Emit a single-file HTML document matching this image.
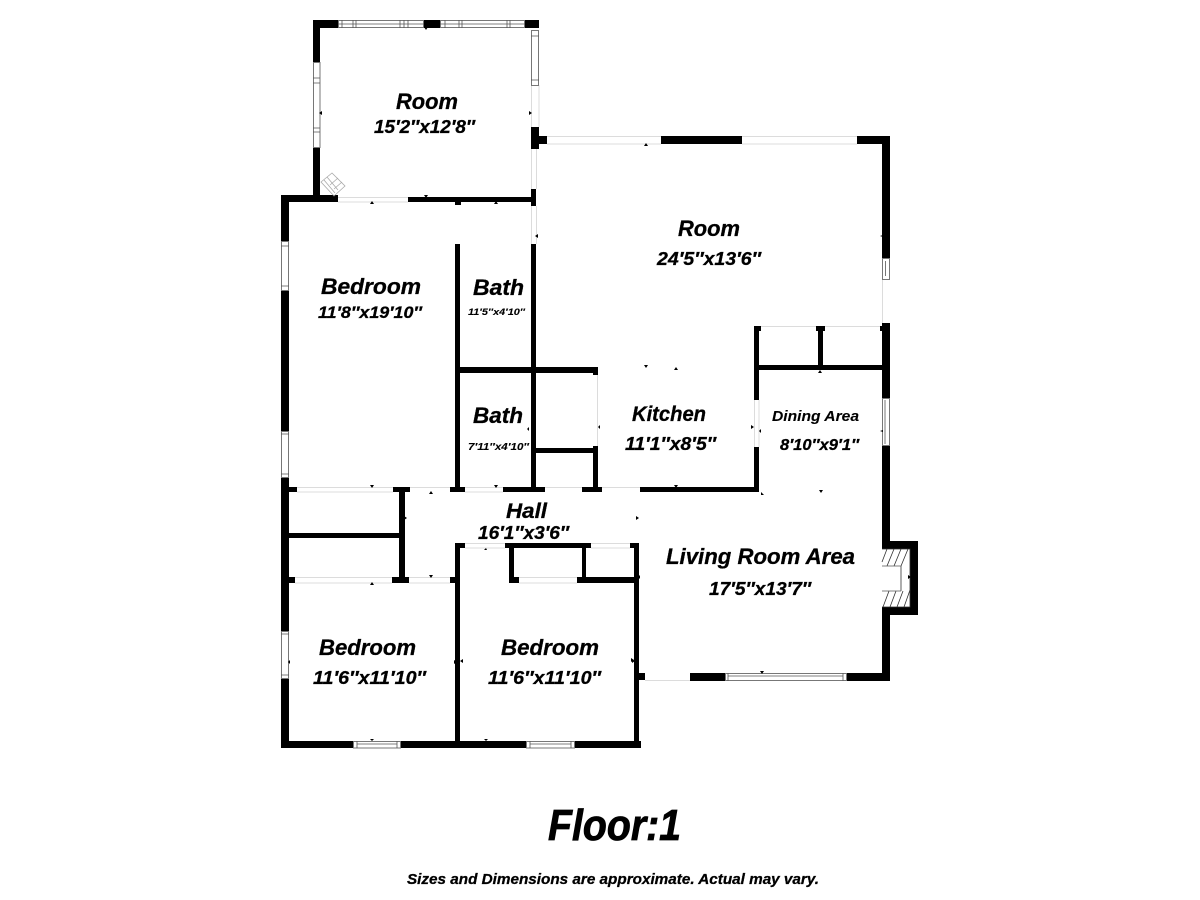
<!DOCTYPE html>
<html>
<head>
<meta charset="utf-8">
<title>Floor 1</title>
<style>
html,body{margin:0;padding:0;background:#fff;}
svg{display:block;}
text{font-family:"Liberation Sans",sans-serif;font-weight:bold;font-style:italic;fill:#000;stroke:#000;stroke-width:.3;}
.w rect{fill:#000;}
.l path{stroke:#dcdcdc;stroke-width:1;fill:none;}
.win rect{fill:#fff;stroke:#777;stroke-width:1;}
.win path{stroke:#555;stroke-width:.8;fill:none;}
</style>
</head>
<body>
<svg width="1200" height="900" viewBox="0 0 1200 900" xmlns="http://www.w3.org/2000/svg">
<rect width="1200" height="900" fill="#fff"/>

<!-- light door and opening lines -->
<g class="l">
<path d="M338 197.5H408M338 202H408"/>
<path d="M531.5 85V127M539 85V127M531.5 149V189M536.5 149V189M531.5 206V244M536.5 206V244"/>
<path d="M547 136.5H661M547 144H661M742 136.5H857M742 144H857"/>
<path d="M882.5 279V323M761 326.5H880"/>
<path d="M597.5 373V446"/>
<path d="M297 487.5H393M297 492H393M465 487.5H503M465 492H503M545 487.5H582M602 487.5H640M410 487.5H450"/>
<path d="M295 577.5H392M295 583H392M409 577.5H450M409 583H450"/>
<path d="M465 543.5H505M465 548H505M591 543.5H630M591 548H630"/>
<path d="M519 577.5H577M519 583H577"/>
<path d="M645 680.5H690"/>
<path d="M754.5 400V447M759 400V447"/>
</g>

<!-- walls -->
<g class="w">
<rect x="313" y="20" width="25" height="8"/>
<rect x="424" y="20" width="16" height="8"/>
<rect x="525" y="20" width="14" height="8"/>
<rect x="313" y="20" width="7" height="42"/>
<rect x="313" y="147" width="7" height="50"/>
<rect x="281" y="195" width="57" height="7"/>
<rect x="408" y="197" width="125" height="5"/>
<rect x="531" y="127" width="8" height="22"/>
<rect x="531" y="136" width="16" height="8"/>
<rect x="531" y="189" width="5" height="17"/>
<rect x="531" y="244" width="5" height="248"/>
<rect x="661" y="136" width="81" height="8"/>
<rect x="857" y="136" width="33" height="8"/>
<rect x="882" y="136" width="8" height="122"/>
<rect x="882" y="323" width="8" height="75"/>
<rect x="882" y="445" width="8" height="96"/>
<rect x="882" y="615" width="8" height="66"/>
<rect x="882" y="541" width="36" height="8"/>
<rect x="882" y="607" width="36" height="8"/>
<rect x="910" y="541" width="8" height="74"/>
<rect x="281" y="195" width="8" height="46"/>
<rect x="281" y="290" width="8" height="141"/>
<rect x="281" y="477" width="8" height="154"/>
<rect x="281" y="678" width="8" height="70"/>
<rect x="281" y="741" width="360" height="7"/>
<rect x="455" y="200" width="6" height="5"/>
<rect x="455" y="244" width="5" height="248"/>
<rect x="455" y="367" width="143" height="6"/>
<rect x="593" y="367" width="5" height="8"/>
<rect x="593" y="446" width="5" height="46"/>
<rect x="536" y="448" width="57" height="5"/>
<rect x="281" y="487" width="16" height="5"/>
<rect x="393" y="487" width="17" height="5"/>
<rect x="450" y="487" width="15" height="5"/>
<rect x="503" y="487" width="42" height="5"/>
<rect x="582" y="487" width="20" height="5"/>
<rect x="640" y="487" width="119" height="5"/>
<rect x="399" y="487" width="6" height="95"/>
<rect x="289" y="533" width="110" height="5"/>
<rect x="281" y="577" width="14" height="6"/>
<rect x="392" y="577" width="17" height="6"/>
<rect x="450" y="577" width="10" height="6"/>
<rect x="455" y="543" width="5" height="203"/>
<rect x="455" y="543" width="10" height="5"/>
<rect x="505" y="543" width="86" height="5"/>
<rect x="630" y="543" width="9" height="5"/>
<rect x="509" y="543" width="5" height="40"/>
<rect x="509" y="577" width="10" height="6"/>
<rect x="582" y="543" width="4" height="40"/>
<rect x="577" y="577" width="62" height="6"/>
<rect x="634" y="543" width="5" height="205"/>
<rect x="634" y="673" width="11" height="7"/>
<rect x="690" y="673" width="35" height="8"/>
<rect x="846" y="673" width="44" height="8"/>
<rect x="754" y="326" width="5" height="74"/>
<rect x="754" y="447" width="5" height="45"/>
<rect x="754" y="326" width="7" height="5"/>
<rect x="816" y="326" width="9" height="5"/>
<rect x="818" y="326" width="5" height="41"/>
<rect x="880" y="326" width="4" height="5"/>
<rect x="754" y="365" width="128" height="5"/>
</g>

<!-- windows -->
<g class="win">
<rect x="338.5" y="20.5" width="85" height="7"/>
<path d="M342 20V28M353 20V28M356 20V28M400 20V28M404 20V28M408 20V28M338 24H424"/>
<rect x="440.5" y="20.5" width="84" height="7"/>
<path d="M445 20V28M459 20V28M462 20V28M507 20V28M510 20V28M440 24H525"/>
<rect x="531.5" y="30.5" width="7" height="55"/>
<path d="M531 36H539M531 80H539"/>
<rect x="313.5" y="62.5" width="6.5" height="85"/>
<path d="M313 78H320M313 83H320M313 128H320M313 132H320"/>
<rect x="281.5" y="241.5" width="7" height="49"/>
<path d="M281 246H289M281 286H289"/>
<rect x="281.5" y="431.5" width="7" height="46"/>
<path d="M281 434H289M281 474H289"/>
<rect x="281.5" y="631.5" width="7" height="47"/>
<path d="M281 634H289M281 675H289"/>
<rect x="882.5" y="258.5" width="7" height="21"/>
<path d="M885.5 261V276"/>
<rect x="882.5" y="398.5" width="7" height="47"/>
<path d="M885 400V444"/>
<rect x="725.5" y="673.5" width="121" height="7"/>
<path d="M728 673V681M843 673V681M728 676H843"/>
<rect x="353.5" y="741.5" width="47" height="6.5"/>
<path d="M357 741V748M397 741V748M357 744H397"/>
<rect x="526.5" y="741.5" width="48" height="6.5"/>
<path d="M530 741V748M571 741V748M530 744H571"/>
</g>

<!-- fireplace -->
<g fill="none" stroke="#333" stroke-width=".8">
<path d="M882 549H910V607H882"/>
<path d="M882 562L887 549M887 566L894 549M894 566L901 549M901 566L908 549"/>
<path d="M883 607L889 591M890 607L896 591M897 607L903 591M904 607L910 590"/>
<path d="M901 566V591"/>
<path d="M882 566H901M882 591H901" stroke="#555"/>
</g>

<!-- corner icon -->
<g fill="none" stroke="#aaa" stroke-width=".8">
<path d="M321 182L332 173L345 186L334 196Z"/>
<path d="M327 177L338 190M324 180L335 193M330 185L338 178M334 189L342 182"/>
</g>

<!-- small measure ticks -->
<path fill="#000" d="M424 27h4l-2 3zM319 113l3-2v4zM532 113l-3-2v4zM424 195h4l-2 3zM370 204h4l-2-3zM494 204h4l-2-3zM535 236l3-2v4zM644 146h4l-2-3zM880 236l3-1v2zM644 365h4l-2 3zM674 370h4l-2-3zM818 373h4l-2-3zM370 485h4l-2 3zM429 494h4l-2-3zM494 485h4l-2 3zM404 516l3 2-3 2zM636 516l3 2-3 2zM484 550h3l-1-2zM429 575h4l-2 3zM370 585h4l-2-3zM529 427l-2 2 2 2zM600 425l-2 2 2 2zM751 425l3 2-3 2zM761 429l-2 2 2 2zM674 485h4l-2 3zM761 492l3 3h-3zM819 490h4l-2 3zM880 431l3-1v2zM760 671h4l-2 3zM640 575l-2 2 2 2zM631 658l3 2-3 2zM908 575l3 2-3 2zM290 660l-2 2 2 2zM454 660l3 2-3 2zM463 659l-3 2 3 2zM632 659l3 2-3 2zM370 739h4l-2 2zM484 739h4l-2 2zM494 368v4h1v-4zM497 368v4h1v-4z"/>

<!-- labels -->
<text x="396" y="109" font-size="22" textLength="62" lengthAdjust="spacingAndGlyphs">Room</text>
<text x="374" y="133" font-size="18" textLength="101" lengthAdjust="spacingAndGlyphs">15′2″x12′8″</text>
<text x="678" y="236" font-size="22" textLength="62" lengthAdjust="spacingAndGlyphs">Room</text>
<text x="657" y="265" font-size="18" textLength="104" lengthAdjust="spacingAndGlyphs">24′5″x13′6″</text>
<text x="321" y="294" font-size="22" textLength="100" lengthAdjust="spacingAndGlyphs">Bedroom</text>
<text x="318" y="318" font-size="17" textLength="104" lengthAdjust="spacingAndGlyphs">11′8″x19′10″</text>
<text x="473" y="295" font-size="22" textLength="51" lengthAdjust="spacingAndGlyphs">Bath</text>
<text x="468" y="315" font-size="9" textLength="57" lengthAdjust="spacingAndGlyphs" style="stroke-width:.1">11′5″x4′10″</text>
<text x="473" y="423" font-size="22" textLength="50" lengthAdjust="spacingAndGlyphs">Bath</text>
<text x="468" y="450" font-size="10.5" textLength="61" lengthAdjust="spacingAndGlyphs" style="stroke-width:.1">7′11″x4′10″</text>
<text x="632" y="421" font-size="21" textLength="74" lengthAdjust="spacingAndGlyphs">Kitchen</text>
<text x="625" y="450" font-size="18" textLength="91" lengthAdjust="spacingAndGlyphs">11′1″x8′5″</text>
<text x="772" y="421" font-size="15" textLength="87" lengthAdjust="spacingAndGlyphs" style="stroke-width:.1">Dining Area</text>
<text x="780" y="450" font-size="16" textLength="79" lengthAdjust="spacingAndGlyphs">8′10″x9′1″</text>
<text x="506" y="518" font-size="21" textLength="41" lengthAdjust="spacingAndGlyphs">Hall</text>
<text x="478" y="539" font-size="18" textLength="91" lengthAdjust="spacingAndGlyphs">16′1″x3′6″</text>
<text x="666" y="564" font-size="22" textLength="189" lengthAdjust="spacingAndGlyphs">Living Room Area</text>
<text x="709" y="595" font-size="18" textLength="102" lengthAdjust="spacingAndGlyphs">17′5″x13′7″</text>
<text x="319" y="655" font-size="22" textLength="97" lengthAdjust="spacingAndGlyphs">Bedroom</text>
<text x="313" y="684" font-size="18" textLength="113" lengthAdjust="spacingAndGlyphs">11′6″x11′10″</text>
<text x="501" y="655" font-size="22" textLength="98" lengthAdjust="spacingAndGlyphs">Bedroom</text>
<text x="488" y="684" font-size="18" textLength="113" lengthAdjust="spacingAndGlyphs">11′6″x11′10″</text>
<text x="548" y="840" font-size="44" textLength="133" lengthAdjust="spacingAndGlyphs" style="stroke-width:.8">Floor:1</text>
<text x="407" y="884" font-size="15" textLength="412" lengthAdjust="spacingAndGlyphs">Sizes and Dimensions are approximate. Actual may vary.</text>
</svg>
</body>
</html>
